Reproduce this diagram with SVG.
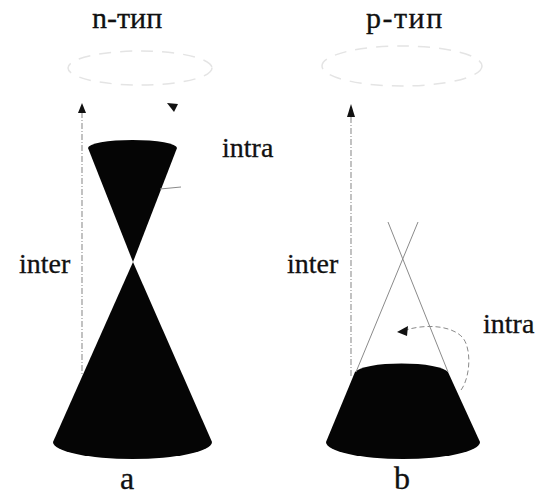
<svg xmlns="http://www.w3.org/2000/svg" width="536" height="495" viewBox="0 0 536 495" font-family="'Liberation Serif', 'Times New Roman', serif">
<style>
text{font-family:'Liberation Serif','Times New Roman',serif;fill:#111;stroke:#111;stroke-width:0.3}
.t{font-size:30px}
.l{font-size:28px}
.cap{font-size:32px}
.solid{fill:#050505}
.thin{fill:none;stroke:#8a8a8a;stroke-width:1}
.dash{fill:none;stroke:#999;stroke-width:1.2;stroke-dasharray:6 2 1 2}
.faint{fill:none;stroke:#e4e4e4;stroke-width:1.5;stroke-dasharray:12 9}
.head{fill:#111}
</style>
<g id="panel-a">
  <text class="t" x="92" y="28">n-тип</text>
  <ellipse class="faint" cx="140" cy="68" rx="72" ry="17"/>
  <g id="cone-a-upper"><path class="solid" d="M88,148 A44.5,8 0 0,1 177,148 L133,262 Z"/></g>
  <g id="cone-a-lower"><path class="solid" d="M133,262 L53,442 A79.5,17 0 0,0 212,442 Z"/></g>
  <text class="l" x="222" y="157">intra</text>
  <text class="l" x="19" y="273">inter</text>
  <text class="cap" x="120" y="489">a</text>
</g>
<g id="panel-b">
  <text class="t" x="366" y="28" font-size="33" letter-spacing="1.5">p-тип</text>
  <ellipse class="faint" cx="402" cy="66" rx="80" ry="20"/>
  <g id="frustum-b"><path class="solid" d="M355,372 A47,10 0 0,1 448,372 L480,442 A77,17 0 0,1 326,442 Z"/></g>
  <g id="cone-b-outline">
    <line class="thin" x1="356" y1="372" x2="418" y2="222"/>
    <line class="thin" x1="448" y1="372" x2="388" y2="222"/>
  </g>
  <text class="l" x="483" y="333">intra</text>
  <text class="l" x="287" y="273">inter</text>
  <text class="cap" x="394" y="489">b</text>
</g>
<g id="connectors">
  <line class="dash" x1="82" y1="112" x2="82" y2="376"/>
  <path class="head" d="M82,103 L78,113 L86,113 Z"/>
  <path class="head" d="M167,103 L178,104 L174,112 Z"/>
  <line class="thin" x1="160" y1="189" x2="181" y2="187"/>
  <line class="dash" x1="351" y1="117" x2="351" y2="378"/>
  <path class="head" d="M351,104 L347,117 L355,117 Z"/>
  <path class="thin" d="M461,390 C470,378 472,350 463,338 C452,325 425,324 406,330" stroke-dasharray="5 3"/>
  <path class="head" d="M397,332 L408,326 L407,336 Z"/>
</g>
</svg>
